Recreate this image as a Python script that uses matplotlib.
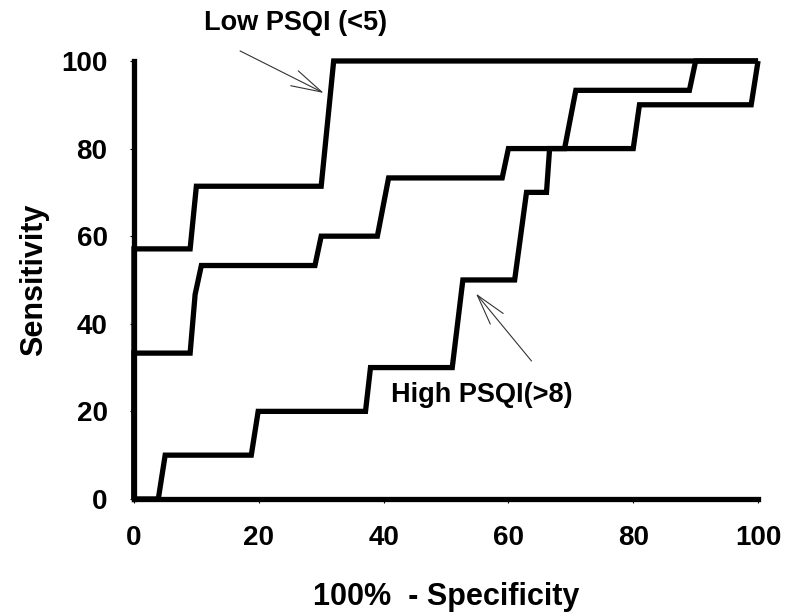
#!/usr/bin/env python3
# -*- coding: utf-8 -*-
"""ROC curves for PSQI groups."""
import sys
import matplotlib
matplotlib.use("Agg")
import matplotlib.pyplot as plt

# ROC points (x = 100% - specificity, y = sensitivity)
low_fpr = [0, 0, 9, 10, 30, 32, 100]
low_sens = [0, 57.1, 57.1, 71.4, 71.4, 100, 100]

mid_fpr = [0, 0, 9, 9.8, 10.8, 29, 30, 39, 40.8, 59, 60, 69, 70.8, 89, 90, 100]
mid_sens = [0, 33.3, 33.3, 46.7, 53.3, 53.3, 60, 60, 73.3, 73.3, 80, 80,
            93.3, 93.3, 100, 100]

high_fpr = [0, 3.9, 5, 18.8, 19.9, 37.1, 37.9, 51, 52.7, 61, 62.9, 66.1,
            66.6, 80, 81, 98.9, 100]
high_sens = [0, 0, 10, 10, 20, 20, 30, 30, 50, 50, 70, 70, 80, 80, 90, 90, 100]

ticks = [0, 20, 40, 60, 80, 100]


def main():
    plt.rcParams["font.family"] = ["Liberation Sans", "DejaVu Sans"]
    plt.rcParams["font.weight"] = "bold"

    fig = plt.figure(figsize=(7.88, 6.16), dpi=100)
    ax = fig.add_axes([0.170, 0.190, 0.792, 0.711])

    for xs, ys in [(low_fpr, low_sens), (mid_fpr, mid_sens), (high_fpr, high_sens)]:
        ax.plot(xs, ys, color="black", lw=3.8, clip_on=False,
                solid_joinstyle="miter", solid_capstyle="butt", zorder=3)

    ax.set_xlim(0, 100)
    ax.set_ylim(0, 100)
    ax.set_xticks(ticks)
    ax.set_yticks(ticks)
    ax.tick_params(direction="out", length=3, width=0.8, labelsize=20, pad=16)
    for lab in ax.get_xticklabels() + ax.get_yticklabels():
        lab.set_fontweight("bold")

    for side in ["top", "right"]:
        ax.spines[side].set_visible(False)
    for side in ["left", "bottom"]:
        ax.spines[side].set_linewidth(3.8)
        ax.spines[side].set_capstyle("projecting")

    ax.set_xlabel("100%  - Specificity", fontsize=22, fontweight="bold", labelpad=22)
    ax.set_ylabel("Sensitivity", fontsize=22, fontweight="bold", labelpad=9)

    arrow = dict(arrowstyle="->, head_length=1.1, head_width=0.3",
                 lw=0.8, color="#333333", shrinkA=0, shrinkB=0,
                 mutation_scale=20)
    ax.text(25.9, 108.7, "Low PSQI (<5)", fontsize=19.5, fontweight="bold",
            ha="center", va="center")
    ax.annotate("", xy=(30.4, 92.7), xytext=(17.0, 102.3), arrowprops=arrow)

    ax.text(55.8, 23.7, "High PSQI(>8)", fontsize=19.5, fontweight="bold",
            ha="center", va="center")
    ax.annotate("", xy=(54.8, 46.9), xytext=(63.7, 31.5), arrowprops=arrow)

    fig.savefig("out.png", dpi=100)
    return 0


if __name__ == "__main__":
    sys.exit(main())
